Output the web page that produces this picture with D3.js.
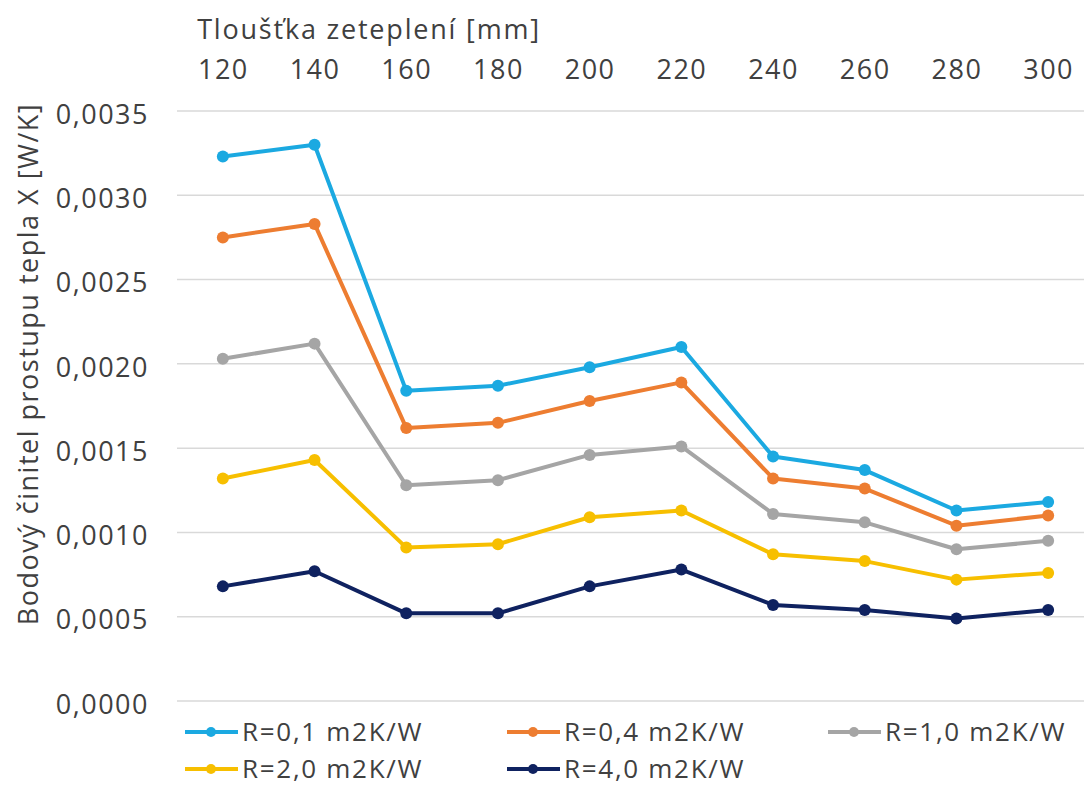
<!DOCTYPE html>
<html>
<head>
<meta charset="utf-8">
<script src="https://cdn.jsdelivr.net/npm/d3@7"></script>
<style>
  body { margin: 0; background: #fff; }
  text { font-family: "Open Sans", sans-serif; fill: #404040; }
</style>
</head>
<body>
<svg id="chart" width="1084" height="787"></svg>
<script>
// thickness of insulation (mm) and point heat transfer coefficient X (W/K)
const thickness = ["120", "140", "160", "180", "200", "220", "240", "260", "280", "300"];
const seriesNames = ["R=0,1 m2K/W", "R=0,4 m2K/W", "R=1,0 m2K/W", "R=2,0 m2K/W", "R=4,0 m2K/W"];
const r01 = [0.00323, 0.00330, 0.00184, 0.00187, 0.00198, 0.00210, 0.00145, 0.00137, 0.00113, 0.00118];
const r04 = [0.00275, 0.00283, 0.00162, 0.00165, 0.00178, 0.00189, 0.00132, 0.00126, 0.00104, 0.00110];
const r10 = [0.00203, 0.00212, 0.00128, 0.00131, 0.00146, 0.00151, 0.00111, 0.00106, 0.00090, 0.00095];
const r20 = [0.00132, 0.00143, 0.00091, 0.00093, 0.00109, 0.00113, 0.00087, 0.00083, 0.00072, 0.00076];
const r40 = [0.00068, 0.00077, 0.00052, 0.00052, 0.00068, 0.00078, 0.00057, 0.00054, 0.00049, 0.00054];
const yTicks = [0, 0.0005, 0.0010, 0.0015, 0.0020, 0.0025, 0.0030, 0.0035];
const colrs = ["#1ba9e1", "#ed7d31", "#a5a5a5", "#f7bf00", "#0f2260"];

const allSeries = [r01, r04, r10, r20, r40];

const fs = 27;        // font size
const ls = 1.5;       // letter spacing, the original font is wide

const svg = d3.select("#chart");
const pLeft = 177, pRight = 1094, pTop = 111, pBottom = 701;

const x = d3.scalePoint().domain(thickness).range([pLeft, pRight]).padding(0.5);
const y = d3.scaleLinear().domain([0, 0.0035]).range([pBottom, pTop]);

const czFmt = d3.formatLocale({decimal: ",", thousands: " ", grouping: [3], currency: ["", " Kč"]}).format(".4f");

// gridlines
svg.append("g").selectAll("line").data(yTicks).join("line")
   .attr("x1", pLeft).attr("x2", 1084)
   .attr("y1", d => y(d)).attr("y2", d => y(d))
   .attr("stroke", "#d9d9d9").attr("stroke-width", 1.5);

// y axis labels
const yAxis = svg.append("g").attr("transform", "translate(" + pLeft + ",0)")
   .call(d3.axisLeft(y).tickValues(yTicks).tickFormat(czFmt).tickSize(0).tickPadding(28));
yAxis.select(".domain").remove();
yAxis.selectAll("text").attr("font-size", fs).attr("dy", "0.45em").attr("letter-spacing", ls)
   .style("font-family", "'Open Sans', sans-serif").attr("fill", "#404040");

// x axis on top
const xAxis = svg.append("g").attr("transform", "translate(0,85)")
   .call(d3.axisTop(x).tickSize(0).tickPadding(6));
xAxis.select(".domain").remove();
xAxis.selectAll("text").attr("font-size", fs).attr("letter-spacing", ls)
   .style("font-family", "'Open Sans', sans-serif").attr("fill", "#404040");

// axis titles
svg.append("text").text("Tloušťka zeteplení [mm]")
   .attr("x", 369).attr("y", 39).attr("text-anchor", "middle")
   .attr("font-size", fs).attr("letter-spacing", 1.8);
svg.append("text").text("Bodový činitel prostupu tepla X [W/K]")
   .attr("transform", "translate(38,364) rotate(-90)")
   .attr("text-anchor", "middle").attr("font-size", fs).attr("letter-spacing", ls);

// lines + markers
const line = d3.line().x((d, i) => x(thickness[i])).y(d => y(d));
allSeries.forEach((vals, s) => {
   const g = svg.append("g");
   g.append("path").datum(vals).attr("d", line)
     .attr("fill", "none").attr("stroke", colrs[s]).attr("stroke-width", 4)
     .attr("stroke-linejoin", "round");
   g.selectAll("circle").data(vals).join("circle")
     .attr("cx", (d, i) => x(thickness[i])).attr("cy", d => y(d))
     .attr("r", 6).attr("fill", colrs[s]);
});

// legend
const legX = [185, 507, 828];
const legY = [732, 769];
seriesNames.forEach((name, i) => {
   const lx = legX[i % 3], ly = legY[Math.floor(i / 3)];
   const g = svg.append("g");
   g.append("line").attr("x1", lx).attr("x2", lx + 53).attr("y1", ly).attr("y2", ly)
     .attr("stroke", colrs[i]).attr("stroke-width", 4);
   g.append("circle").attr("cx", lx + 26).attr("cy", ly).attr("r", 5).attr("fill", colrs[i]);
   g.append("text").text(name).attr("x", lx + 57).attr("y", ly).attr("dy", "0.35em")
     .attr("font-size", 26).attr("letter-spacing", 1.7);
});
</script>
</body>
</html>
